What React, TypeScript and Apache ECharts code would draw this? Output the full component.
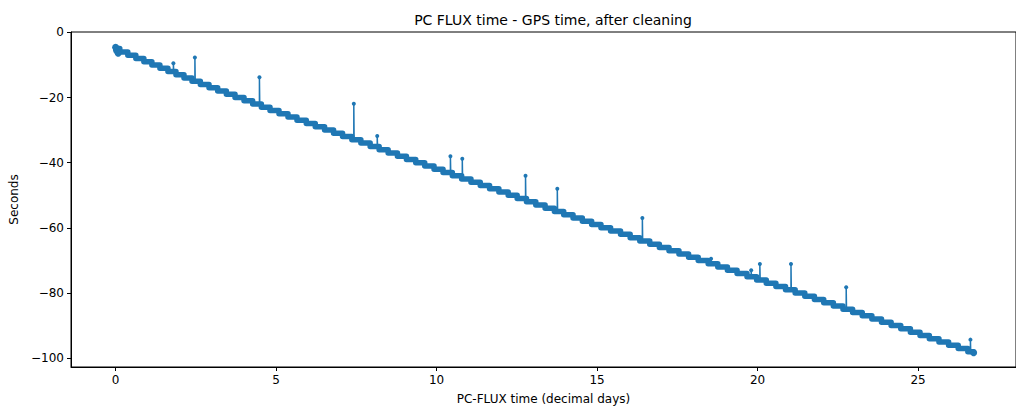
import React, { useEffect, useRef } from "react";
import * as echarts from "echarts";

// Start (decimal days) of each one-second clock-offset level
const stepDays: number[] = [
  0.0, 0.13, 0.38, 0.63, 0.88, 1.13, 1.38, 1.63, 1.88, 2.13,
  2.38, 2.64, 2.91, 3.18, 3.45, 3.72, 4.00, 4.27, 4.54, 4.81,
  5.09, 5.37, 5.65, 5.94, 6.22, 6.51, 6.79, 7.07, 7.36, 7.64,
  7.93, 8.21, 8.49, 8.78, 9.06, 9.35, 9.63, 9.92, 10.20, 10.49,
  10.78, 11.07, 11.36, 11.65, 11.94, 12.23, 12.51, 12.80, 13.09, 13.38,
  13.67, 13.96, 14.25, 14.54, 14.83, 15.12, 15.42, 15.73, 16.03, 16.33,
  16.64, 16.94, 17.24, 17.55, 17.85, 18.15, 18.46, 18.76, 19.06, 19.36,
  19.67, 19.97, 20.27, 20.57, 20.87, 21.17, 21.47, 21.77, 22.06, 22.36,
  22.66, 22.96, 23.26, 23.56, 23.86, 24.16, 24.46, 24.76, 25.06, 25.35,
  25.65, 25.95, 26.25, 26.55, 26.73,
];
// Offset (seconds) for each level above
const stepSeconds: number[] = [
  -5, -6, -7, -8, -9, -10, -11, -12, -13, -14,
  -15, -16, -17, -18, -19, -20, -21, -22, -23, -24,
  -25, -26, -27, -28, -29, -30, -31, -32, -33, -34,
  -35, -36, -37, -38, -39, -40, -41, -42, -43, -44,
  -45, -46, -47, -48, -49, -50, -51, -52, -53, -54,
  -55, -56, -57, -58, -59, -60, -61, -62, -63, -64,
  -65, -66, -67, -68, -69, -70, -71, -72, -73, -74,
  -75, -76, -77, -78, -79, -80, -81, -82, -83, -84,
  -85, -86, -87, -88, -89, -90, -91, -92, -93, -94,
  -95, -96, -97, -98, -98,
];

// Outlier spikes remaining after cleaning
const spikeDays: number[] = [1.80, 2.47, 4.48, 7.42, 8.15, 10.43, 10.80, 12.77, 13.76, 16.41, 18.55, 19.80, 20.07, 21.04, 22.76, 26.63];
const spikeTops: number[] = [-9.5, -7.7, -13.8, -21.9, -31.8, -38.0, -38.8, -44.0, -48.0, -57.0, -69.5, -73.0, -71.1, -71.1, -78.2, -94.3];

const xTicks: number[] = [0, 5, 10, 15, 20, 25];
const yTicks: number[] = [0, -20, -40, -60, -80, -100];

const BLUE = "#1f77b4";
const FONT = "DejaVu Sans";

function levelAt(x: number): number {
  let v = stepSeconds[0];
  for (let i = 0; i < stepDays.length; i++) {
    if (stepDays[i] <= x) v = stepSeconds[i];
  }
  return v;
}

const fmt = (v: number) => (v < 0 ? "\u2212" + Math.abs(v) : String(v));

export default function App() {
  const ref = useRef<HTMLDivElement>(null);
  useEffect(() => {
    document.body.style.margin = "0";
    if (!ref.current) return;
    const chart = echarts.init(ref.current, undefined, { renderer: "svg" });
    const mainData = stepDays.map((d, i) => [d, stepSeconds[i]]);
    const spikeSeries = spikeDays.map((d, i) => {
      const base = levelAt(d);
      return {
        type: "line",
        data: [
          { value: [d, base], symbol: "none" },
          { value: [d, spikeTops[i]], symbol: "circle", symbolSize: 4 },
          { value: [d + 0.01, base], symbol: "none" },
        ],
        lineStyle: { color: BLUE, width: 1.5 },
        itemStyle: { color: BLUE },
        showSymbol: true,
        z: 3,
        silent: true,
      };
    });
    chart.setOption({
      animation: false,
      title: {
        text: "PC FLUX time - GPS time, after cleaning",
        left: 548,
        top: 8,
        textAlign: "center",
        textStyle: { fontFamily: FONT, fontSize: 14, fontWeight: "normal", color: "#000" },
      },
      grid: {
        left: 71,
        right: -10,
        top: 32,
        bottom: 40,
        show: true,
        borderColor: "#000",
        borderWidth: 1,
        backgroundColor: "transparent",
      },
      xAxis: {
        type: "value",
        min: -1.39,
        max: 28.05,
        splitLine: { show: false },
        axisLine: { show: true, onZero: false, lineStyle: { color: "#000", width: 1 } },
        axisTick: { show: true, length: 4, customValues: xTicks, lineStyle: { color: "#000" } },
        axisLabel: {
          customValues: xTicks,
          fontFamily: FONT,
          fontSize: 12,
          color: "#000",
          margin: 7,
          formatter: fmt,
        },
        name: "PC-FLUX time (decimal days)",
        nameLocation: "middle",
        nameGap: 26,
        nameTextStyle: { fontFamily: FONT, fontSize: 12, color: "#000" },
      },
      yAxis: {
        type: "value",
        min: -102.7,
        max: 0.1,
        splitLine: { show: false },
        axisLine: { show: true, onZero: false, lineStyle: { color: "#000", width: 1 } },
        axisTick: { show: true, length: 4, customValues: yTicks, lineStyle: { color: "#000" } },
        axisLabel: {
          customValues: yTicks,
          fontFamily: FONT,
          fontSize: 12,
          color: "#000",
          margin: 7,
          formatter: fmt,
        },
        name: "Seconds",
        nameLocation: "middle",
        nameGap: 48,
        nameTextStyle: { fontFamily: FONT, fontSize: 12, color: "#000" },
      },
      series: [
        {
          type: "line",
          step: "end",
          data: mainData,
          showSymbol: false,
          lineStyle: { color: BLUE, width: 5.5, cap: "round", join: "round" },
          z: 4,
          silent: true,
        },
        {
          type: "scatter",
          data: [[0, -4.6], [0.03, -5.6], [0.08, -6.4], [26.73, -98.3]],
          symbolSize: 7,
          itemStyle: { color: BLUE, opacity: 1 },
          z: 5,
          silent: true,
        },
        ...spikeSeries,
      ],
    });
    return () => chart.dispose();
  }, []);
  return <div ref={ref} style={{ width: 1016, height: 410 }} />;
}
